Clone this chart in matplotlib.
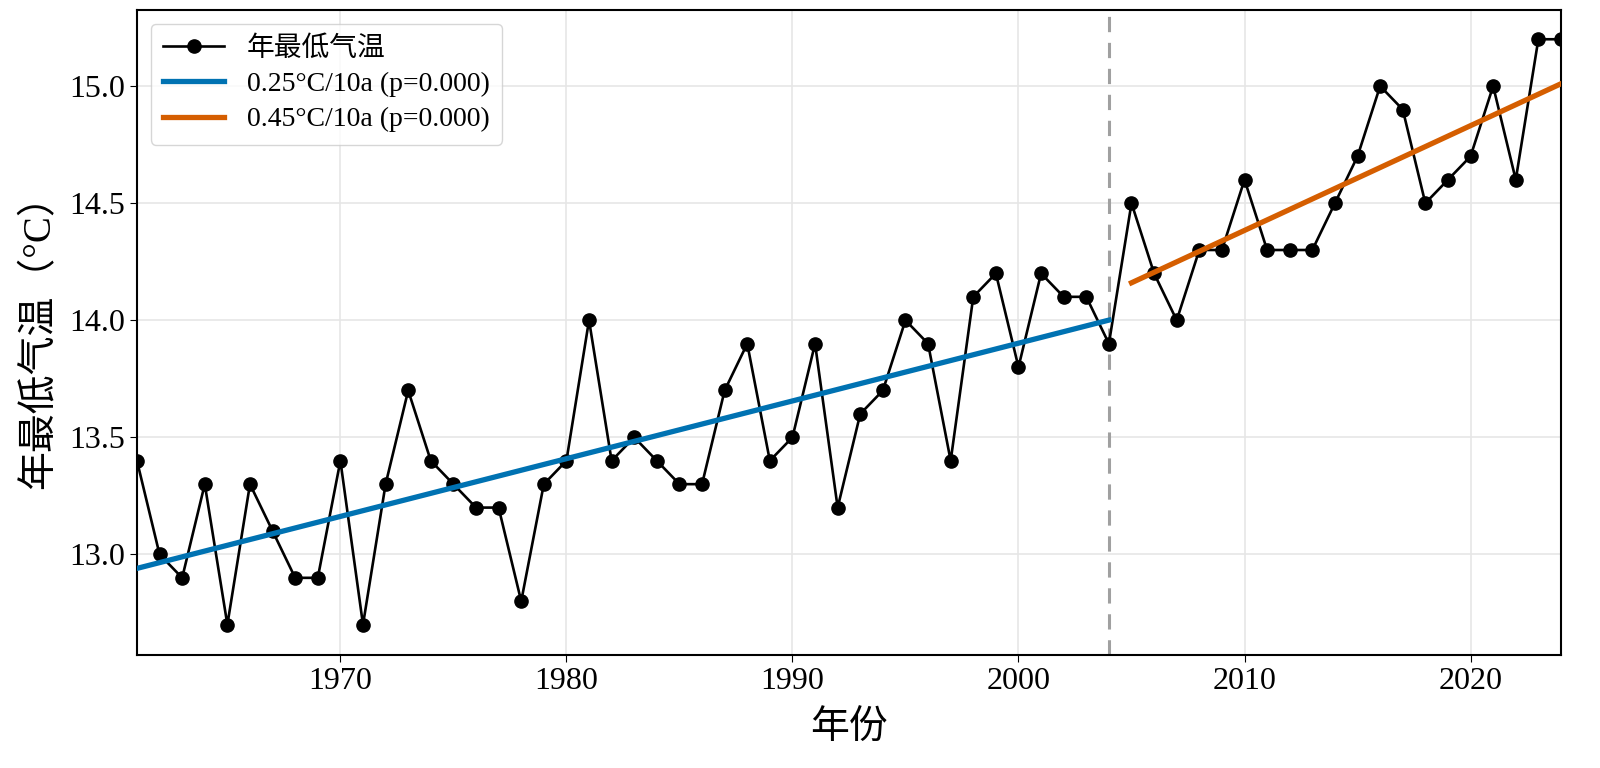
import numpy as np
import matplotlib.pyplot as plt

plt.rcParams['font.family'] = ['Liberation Serif', 'Noto Sans CJK SC']
plt.rcParams['axes.unicode_minus'] = False

# data
years = list(range(1961, 2025))
tmin = [13.4, 13.0, 12.9, 13.3, 12.7, 13.3, 13.1, 12.9, 12.9, 13.4,
        12.7, 13.3, 13.7, 13.4, 13.3, 13.2, 13.2, 12.8, 13.3, 13.4,
        14.0, 13.4, 13.5, 13.4, 13.3, 13.3, 13.7, 13.9, 13.4, 13.5,
        13.9, 13.2, 13.6, 13.7, 14.0, 13.9, 13.4, 14.1, 14.2, 13.8,
        14.2, 14.1, 14.1, 13.9, 14.5, 14.2, 14.0, 14.3, 14.3, 14.6,
        14.3, 14.3, 14.3, 14.5, 14.7, 15.0, 14.9, 14.5, 14.6, 14.7,
        15.0, 14.6, 15.2, 15.2]
change_year = 2004
label_a = "0.25°C/10a (p=0.000)"
label_b = "0.45°C/10a (p=0.000)"

x = np.array(years)
y = np.array(tmin)
m1 = x <= change_year
m2 = x > change_year
k1, b1 = np.polyfit(x[m1], y[m1], 1)
k2, b2 = np.polyfit(x[m2], y[m2], 1)

fig, ax = plt.subplots(figsize=(16, 7.68), dpi=100)
fig.subplots_adjust(left=0.0856, right=0.9756, top=0.987, bottom=0.147)

ax.plot(x, y, color='black', marker='o', markersize=9.5, linewidth=1.9,
        label='年最低气温', zorder=3)
ax.plot(x[m1], k1 * x[m1] + b1, color='#0072b2', linewidth=3.8,
        label=label_a, zorder=4)
ax.plot(x[m2], k2 * x[m2] + b2, color='#d55e00', linewidth=3.8,
        label=label_b, zorder=4)
ax.axvline(change_year, color='#a0a0a0', linestyle='--', linewidth=2.2,
           dashes=(5, 3.5), zorder=2)

ax.set_xlim(1961, 2024)
ax.set_ylim(12.57, 15.325)
ax.set_xticks([1970, 1980, 1990, 2000, 2010, 2020])
ax.set_yticks([13.0, 13.5, 14.0, 14.5, 15.0])
ax.tick_params(labelsize=23, direction='out', length=5)
ax.grid(True, color='#e6e6e6', linewidth=1.2, zorder=0)
ax.set_axisbelow(True)

ax.set_xlabel('年份', fontsize=28, labelpad=10)
ax.set_ylabel('年最低气温（°C）', fontsize=28, labelpad=8)

leg = ax.legend(loc='upper left', fontsize=20, frameon=True, fancybox=True,
                handlelength=2.2, borderpad=0.45, labelspacing=0.35,
                borderaxespad=0.5)
leg.get_frame().set_edgecolor('#cccccc')

for s in ax.spines.values():
    s.set_linewidth(1.5)

fig.savefig('out.png', dpi=100)
